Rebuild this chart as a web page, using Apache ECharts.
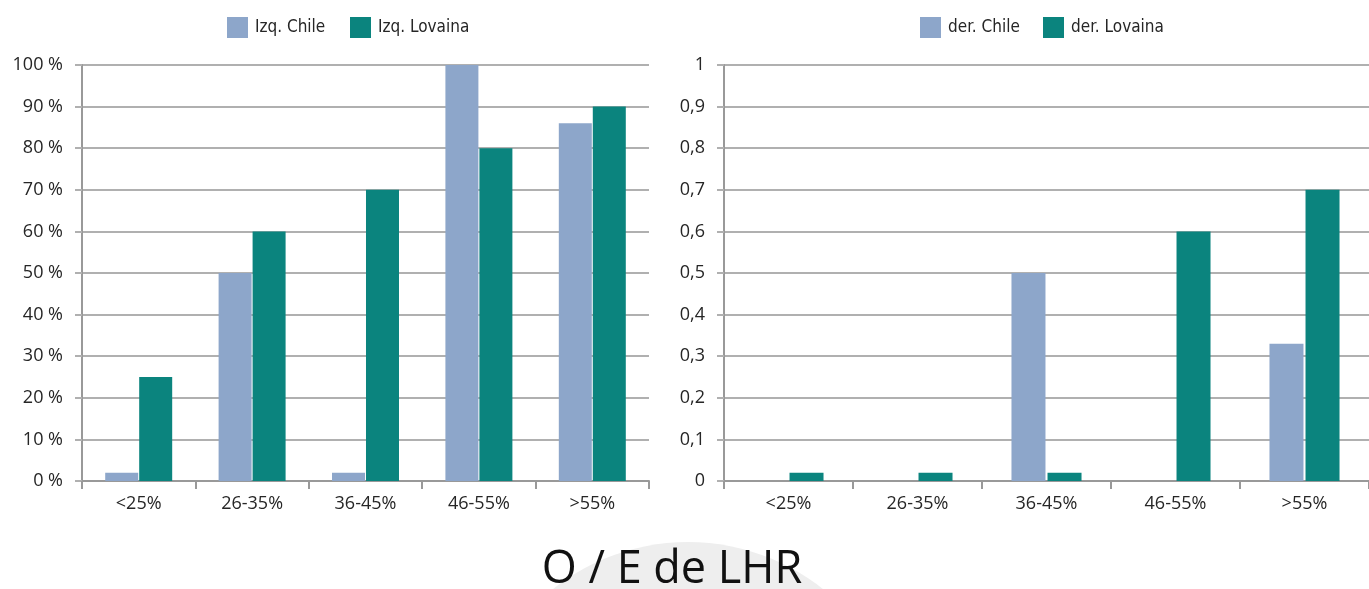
<!DOCTYPE html>
<html>
<head>
<meta charset="utf-8">
<script src="https://cdn.jsdelivr.net/npm/echarts@6/dist/echarts.min.js"></script>
<style>
  html, body { margin: 0; padding: 0; background: #fff; }
  #chart { width: 1369px; height: 589px; }
</style>
</head>
<body>
<div id="chart"></div>
<script>
// categories (O/E de LHR ranges)
const categories = ['<25%', '26-35%', '36-45%', '46-55%', '>55%'];

// left panel, percent
const izqChile = [2, 50, 2, 100, 86];
const izqLovaina = [25, 60, 70, 80, 90];

// right panel, fraction
const derChile = [0, 0, 0.5, 0, 0.33];
const derLovaina = [0.02, 0.02, 0.02, 0.6, 0.7];

const colChile = '#8da6ca';
const colLovaina = '#0b847e';
const gridCol = '#b0b0b0';
const axisCol = '#999999';
const txtCol = '#262626';
const labelFont = '"Open Sans", "Noto Sans", sans-serif';
const legendFont = '"Liberation Sans Narrow", "DejaVu Sans Condensed", "Liberation Sans", sans-serif';

let chart = echarts.init(document.getElementById('chart'));

function xAxisFor(gridIndex) {
  return {
    type: 'category',
    gridIndex: gridIndex,
    data: categories,
    axisLine: { lineStyle: { color: axisCol, width: 2 } },
    axisTick: { show: true, length: 8, lineStyle: { color: axisCol, width: 2 } },
    axisLabel: { color: txtCol, fontSize: 18, fontFamily: labelFont, margin: 14 },
    splitLine: { show: false }
  };
}

function yAxisFor(gridIndex, max, interval, fmt) {
  return {
    type: 'value',
    gridIndex: gridIndex,
    min: 0,
    max: max,
    interval: interval,
    axisLine: { show: true, lineStyle: { color: axisCol, width: 2 } },
    axisTick: { show: true, length: 7, lineStyle: { color: gridCol, width: 2 } },
    axisLabel: { color: txtCol, fontSize: 18, fontFamily: labelFont, margin: 19, formatter: fmt },
    splitLine: { lineStyle: { color: gridCol, width: 2 } }
  };
}

function legendAt(name, left) {
  return {
    data: [name],
    left: left,
    top: 12,
    itemWidth: 21,
    itemHeight: 21,
    itemGap: 0,
    icon: 'rect',
    textStyle: { color: txtCol, fontSize: 17, fontFamily: legendFont, padding: [0, 0, 0, 2] }
  };
}

let option = {
  backgroundColor: '#ffffff',
  animation: false,
  legend: [
    legendAt('Izq. Chile', 222),
    legendAt('Izq. Lovaina', 345),
    legendAt('der. Chile', 915),
    legendAt('der. Lovaina', 1038)
  ],
  grid: [
    { left: 82, top: 65, width: 567, height: 416 },
    { left: 724, top: 65, width: 655, height: 416 }
  ],
  xAxis: [xAxisFor(0), xAxisFor(1)],
  yAxis: [
    yAxisFor(0, 100, 10, '{value} %'),
    yAxisFor(1, 1, 0.1, function (v) {
      if (v === 0 || v === 1) return String(v);
      return v.toFixed(1).replace('.', ',');
    })
  ],
  graphic: [
    {
      type: 'circle',
      shape: { cx: 688, cy: 759, r: 217 },
      style: { fill: '#eeeeee' },
      z: -10
    },
    {
      type: 'text',
      x: 672,
      y: 570,
      style: {
        text: 'O / E de LHR',
        fontSize: 45,
        fontFamily: labelFont,
        fill: '#111',
        align: 'center',
        verticalAlign: 'middle'
      }
    }
  ],
  series: [
    { name: 'Izq. Chile', type: 'bar', xAxisIndex: 0, yAxisIndex: 0, data: izqChile,
      barWidth: 33, barGap: '3%', itemStyle: { color: colChile } },
    { name: 'Izq. Lovaina', type: 'bar', xAxisIndex: 0, yAxisIndex: 0, data: izqLovaina,
      barWidth: 33, barGap: '3%', itemStyle: { color: colLovaina } },
    { name: 'der. Chile', type: 'bar', xAxisIndex: 1, yAxisIndex: 1, data: derChile,
      barWidth: 34, barGap: '6%', itemStyle: { color: colChile } },
    { name: 'der. Lovaina', type: 'bar', xAxisIndex: 1, yAxisIndex: 1, data: derLovaina,
      barWidth: 34, barGap: '6%', itemStyle: { color: colLovaina } }
  ]
};

chart.setOption(option);
</script>
</body>
</html>
